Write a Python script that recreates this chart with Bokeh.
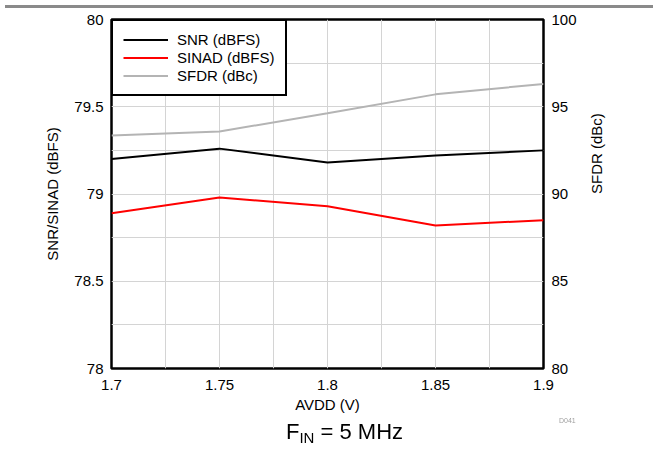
import math
from bokeh.plotting import figure
from bokeh.layouts import column
from bokeh.models import (Range1d, LinearAxis, FixedTicker, Legend, LegendItem, Div)
from bokeh.embed import file_html
from bokeh.resources import INLINE

# ---------------- data ----------------
avdd = [1.7, 1.75, 1.8, 1.85, 1.9]
snr = [79.20, 79.26, 79.18, 79.22, 79.25]
sinad = [78.89, 78.98, 78.93, 78.82, 78.85]
sfdr = [93.35, 93.58, 94.63, 95.71, 96.31]

x_ticks = [1.7, 1.75, 1.8, 1.85, 1.9]
x_tick_labels = ["1.7", "1.75", "1.8", "1.85", "1.9"]
x_grid = [1.725, 1.75, 1.775, 1.8, 1.825, 1.85, 1.875]
left_ticks = [78, 78.5, 79, 79.5, 80]
left_tick_labels = ["78", "78.5", "79", "79.5", "80"]
left_grid = [78.25, 78.5, 78.75, 79, 79.25, 79.5, 79.75]
right_ticks = [80, 85, 90, 95, 100]
right_tick_labels = ["80", "85", "90", "95", "100"]

FONT = "Liberation Sans"
W, H = 645, 446
LEFT, TOP = 111, 19
RIGHT = W - 543
BOTTOM = H - 368

p = figure(width=W, height=H, x_range=Range1d(1.7, 1.9), y_range=Range1d(78, 80),
           output_backend="svg", toolbar_location=None,
           min_border_left=LEFT, min_border_right=RIGHT,
           min_border_top=TOP, min_border_bottom=BOTTOM)
p.extra_y_ranges = {"right": Range1d(80, 100)}

p.outline_line_color = "black"
p.outline_line_width = 2.5
p.outline_line_alpha = 1.0
p.background_fill_color = "white"
p.border_fill_color = "white"

# grid
p.xgrid.ticker = FixedTicker(ticks=x_grid)
p.ygrid.ticker = FixedTicker(ticks=left_grid)
for g in (p.xgrid, p.ygrid):
    g.grid_line_color = "#d4d4d4"
    g.grid_line_width = 1

def style_axis(ax, standoff):
    ax.axis_line_color = None
    ax.major_tick_line_color = None
    ax.minor_tick_line_color = None
    ax.major_tick_out = 0
    ax.major_tick_in = 0
    ax.minor_tick_out = 0
    ax.minor_tick_in = 0
    ax.major_label_standoff = standoff
    ax.major_label_text_font = FONT
    ax.major_label_text_font_size = "15px"
    ax.major_label_text_color = "black"
    ax.axis_label_text_font = FONT
    ax.axis_label_text_font_size = "15px"
    ax.axis_label_text_font_style = "normal"
    ax.axis_label_text_color = "black"

xa = p.xaxis[0]
xa.ticker = FixedTicker(ticks=x_ticks)
xa.major_label_overrides = {t: s for t, s in zip(x_ticks, x_tick_labels)}
style_axis(xa, 11)
xa.axis_label = "AVDD (V)"
xa.axis_label_standoff = 3

ya = p.yaxis[0]
ya.ticker = FixedTicker(ticks=left_ticks)
ya.major_label_overrides = {t: s for t, s in zip(left_ticks, left_tick_labels)}
style_axis(ya, 8)
ya.axis_label = "SNR/SINAD (dBFS)"
ya.axis_label_standoff = 10

ra = LinearAxis(y_range_name="right", ticker=FixedTicker(ticks=right_ticks))
ra.major_label_overrides = {t: s for t, s in zip(right_ticks, right_tick_labels)}
style_axis(ra, 8)
p.add_layout(ra, "right")

extra = []
if "axis_label_orientation" in ra.properties():
    ra.axis_label = "SFDR (dBc)"
    ra.axis_label_standoff = 17
    ra.axis_label_orientation = math.pi / 2
else:
    extra.append(Div(text="SFDR (dBc)", width=90, height=17,
                     styles={"position": "fixed", "left": "553px", "top": "184px",
                             "width": "90px", "height": "17px", "line-height": "17px",
                             "text-align": "center", "font-family": FONT,
                             "font-size": "15px", "color": "black",
                             "transform": "rotate(-90deg)"}))

# lines
r_snr = p.line(avdd, snr, line_color="black", line_width=2)
r_sinad = p.line(avdd, sinad, line_color="#ff0000", line_width=2)
r_sfdr = p.line(avdd, sfdr, line_color="#b4b4b4", line_width=2, y_range_name="right")

legend = Legend(items=[LegendItem(label="SNR (dBFS)", renderers=[r_snr]),
                       LegendItem(label="SINAD (dBFS)", renderers=[r_sinad]),
                       LegendItem(label="SFDR (dBc)", renderers=[r_sfdr])],
                location="top_left", margin=0, padding=10, spacing=1,
                label_height=17, glyph_height=17, glyph_width=45, label_standoff=9,
                border_line_color="black", border_line_width=2.5, border_line_alpha=1.0,
                background_fill_color="white", background_fill_alpha=1.0,
                label_text_font=FONT, label_text_font_size="15px", label_text_color="black")
p.add_layout(legend)

# page decorations placed at fixed page positions
bar = Div(text="", width=653, height=3,
          styles={"position": "fixed", "left": "0px", "top": "0px", "width": "653px",
                  "height": "3px", "background-color": "#8a8a8a"})
fig_id = Div(text="D041", width=30, height=8,
             styles={"position": "fixed", "left": "554px", "top": "412px",
                     "width": "30px", "height": "8px", "line-height": "8px",
                     "font-family": FONT, "font-size": "7px", "color": "#a0a0a0"})
caption = Div(text='F<span style="font-size:15px; position:relative; top:4px;">IN</span> = 5 MHz',
              width=160, height=24,
              styles={"position": "fixed", "left": "281px", "top": "416px",
                      "width": "160px", "height": "24px", "line-height": "22px",
                      "font-family": FONT, "font-size": "22px", "color": "black",
                      "white-space": "nowrap"})

root = column(p, bar, fig_id, caption, *extra)
open("out.html", "w").write(file_html(root, INLINE))
